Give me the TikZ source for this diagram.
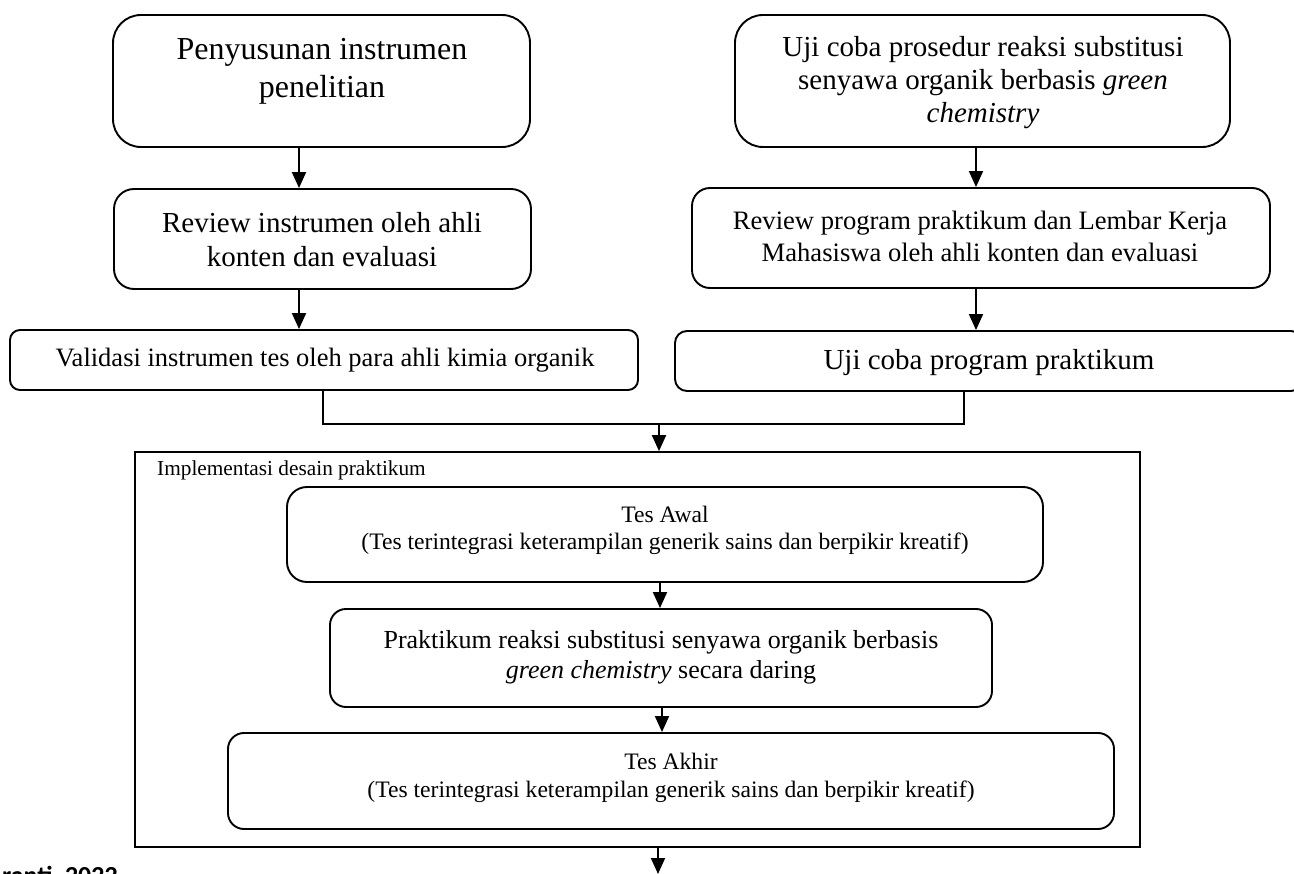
\documentclass[tikz,border=0pt]{standalone}
\usepackage{fontspec}
\setmainfont{Liberation Serif}
\newfontfamily\calfont{Carlito}
\usetikzlibrary{arrows.meta,calc}
\tikzset{
  boxr/.style={draw, line width=1.9pt, rectangle, inner sep=0pt},
  txt/.style={align=center, inner sep=0pt},
  conn/.style={line width=1.9pt},
  arr/.style={line width=1.9pt, -{Triangle[length=16pt,width=14pt]}},
}
\newcommand{\fs}[2]{\fontsize{#1pt}{#2pt}\selectfont}
\begin{document}
\begin{tikzpicture}[x=1pt,y=-1pt]
\useasboundingbox (0,0) rectangle (1294,874);
\clip (0,0) rectangle (1294,874);
% top-left column
\node[boxr, rounded corners=28pt, minimum width=417pt, minimum height=132pt] (b1) at (321.5,81) {};
\node[txt, font=\fs{32}{38}] (t1) at (322,71) {Penyusunan instrumen\\penelitian};
\node[boxr, rounded corners=20pt, minimum width=417pt, minimum height=100pt] (b2) at (322.5,239) {};
\node[txt, font=\fs{29}{34}] (t2) at (322,240) {Review instrumen oleh ahli\\konten dan evaluasi};
\node[boxr, rounded corners=10pt, minimum width=628pt, minimum height=60pt] (b3) at (324,360) {};
\node[txt, font=\fs{26.5}{31}] (t3) at (325,360) {Validasi instrumen tes oleh para ahli kimia organik};
% top-right column
\node[boxr, rounded corners=28pt, minimum width=495pt, minimum height=132pt] (b4) at (982.5,81) {};
\node[txt, font=\fs{29}{33}] (t4) at (983,83) {Uji coba prosedur reaksi substitusi\\senyawa organik berbasis \textit{green}\\\textit{chemistry}};
\node[boxr, rounded corners=18pt, minimum width=578pt, minimum height=100pt] (b5) at (981,238) {};
\node[txt, font=\fs{26.6}{32}] (t5) at (980,236) {Review program praktikum dan Lembar Kerja\\Mahasiswa oleh ahli konten dan evaluasi};
\node[boxr, rounded corners=12pt, minimum width=628pt, minimum height=60pt] (b6) at (989,361) {};
\node[txt, font=\fs{29}{34}] (t6) at (989,363) {Uji coba program praktikum};
% frame
\node[draw, line width=1.7pt, rectangle, inner sep=0pt, minimum width=1005pt, minimum height=395pt] (fr) at (637.5,649.5) {};
\node[txt, anchor=west, font=\fs{21.3}{25}] (lab) at (157,470) {Implementasi desain praktikum};
\node[boxr, rounded corners=20pt, minimum width=756pt, minimum height=95pt] (b7) at (665,534.5) {};
\node[txt, font=\fs{23.6}{27}] (t7) at (665,530) {Tes Awal\\(Tes terintegrasi keterampilan generik sains dan berpikir kreatif)};
\node[boxr, rounded corners=16pt, minimum width=662pt, minimum height=98pt] (b8) at (661,658) {};
\node[txt, font=\fs{26}{30}] (t8) at (661,657) {Praktikum reaksi substitusi senyawa organik berbasis\\\textit{green chemistry} secara daring};
\node[boxr, rounded corners=16pt, minimum width=886pt, minimum height=96pt] (b9) at (671,781) {};
\node[txt, font=\fs{23.6}{28}] (t9) at (671,778) {Tes Akhir\\(Tes terintegrasi keterampilan generik sains dan berpikir kreatif)};
% source text (cut off at the bottom edge, as in the reference)
\node[anchor=base east, inner sep=0pt, font={\calfont\bfseries\fontsize{26pt}{30pt}\selectfont}] (src) at (118,884.4) {ranti, 2022};
% helper coordinates
\coordinate (xl) at (299,0);
\coordinate (xr) at (976,0);
\coordinate (xa) at (660,0);
\coordinate (xb) at (662,0);
\coordinate (xc1) at (323,0);
\coordinate (xc2) at (964,0);
\coordinate (jn) at (659,424);
\coordinate (endp) at (658,874);
% connectors
\draw[arr] (b1.south -| xl) -- (b2.north -| xl);
\draw[arr] (b2.south -| xl) -- (b3.north -| xl);
\draw[arr] (b4.south -| xr) -- (b5.north -| xr);
\draw[arr] (b5.south -| xr) -- (b6.north -| xr);
\draw[conn] (b3.south -| xc1) |- (jn) -| (b6.south -| xc2);
\draw[arr] (jn) -- (fr.north -| jn);
\draw[arr] (b7.south -| xa) -- (b8.north -| xa);
\draw[arr] (b8.south -| xb) -- (b9.north -| xb);
\draw[arr] (fr.south -| endp) -- (endp);
\end{tikzpicture}
\end{document}
